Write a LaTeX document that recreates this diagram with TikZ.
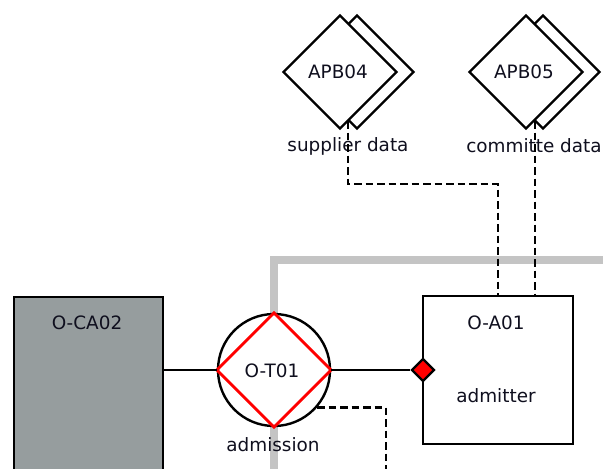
\documentclass[tikz,border=0pt]{standalone}
\usepackage{fontspec}
\setmainfont{DejaVu Sans}
\usetikzlibrary{shapes.geometric,calc}
\definecolor{laneGray}{RGB}{196,196,196}
\definecolor{roleFill}{RGB}{150,157,158}
\definecolor{txt}{RGB}{15,15,30}
\tikzset{
  lbl/.style={font=\fontsize{18.4}{21}\selectfont, text=txt, inner sep=0pt},
  outline/.style={draw=black, line width=2.4pt},
  apbdia/.style={diamond, outline, fill=white, minimum width=114, minimum height=114, inner sep=0pt, aspect=1},
  solidlink/.style={draw=black, line width=2.4pt},
  dashlink/.style={draw=black, line width=2.4pt, dash pattern=on 7.5pt off 4pt},
}
\begin{document}
\begin{tikzpicture}[x=1pt, y=-1pt]
\useasboundingbox (0,0) rectangle (603,469);
\clip (0,0) rectangle (603,469);

% swimlane boundary
\draw[laneGray, line width=8pt] (274,480) |- (615,260);

% organisation unit on the left
\node[outline, fill=roleFill, minimum width=149, minimum height=190, anchor=north west, inner sep=0pt] (ca02) at (13,296) {};
\node[lbl] (ca02t) at (87,323) {O-CA02};

% admitter role box
\node[outline, fill=white, minimum width=150, minimum height=148, inner sep=0pt] (a01) at (498,370) {};
\node[lbl] (a01t) at (496,323) {O-A01};
\node[lbl] (a01d) at (496,396) {admitter};

% transaction node
\node[circle, outline, fill=white, minimum size=112, inner sep=0pt] (t01) at (274,370) {};
\draw[red, line width=2.8pt, line join=miter] (t01.north) -- (t01.east) -- (t01.south) -- (t01.west) -- cycle;
\node[lbl] (t01t) at (272,371) {O-T01};
\node[lbl] (t01d) at (273,445) {admission};

% port on the role box
\node[diamond, draw=black, line width=2.4pt, fill=red, minimum width=23, minimum height=23, inner sep=0pt, aspect=1] (port) at (423,370) {};

% stacked information banks
\node[apbdia] (apb04b) at (357,72) {};
\node[apbdia] (apb04) at (340,72) {};
\node[lbl] (apb04t) at (338,72) {APB04};
\node[lbl] (apb04d) at (348,146) {supplier data};
\coordinate (apb04s) at (348,121);

\node[apbdia] (apb05b) at (543,72) {};
\node[apbdia] (apb05) at (526,72) {};
\node[lbl] (apb05t) at (524,72) {APB05};
\node[lbl] (apb05d) at (534,146) {committe data};
\coordinate (apb05s) at (535,121);

% connectors
\draw[solidlink] (t01.west -| ca02.east) -- (t01.west);
\draw[solidlink] (t01.east) -- (port.west);
\coordinate (lowend) at (386,480);
\draw[dashlink] (t01.-41) -| (lowend);
\draw[dashlink] (apb04s) -- ++(0,63) -| (a01.north);
\draw[dashlink] (apb05s) -- (apb05s |- a01.north);
\end{tikzpicture}
\end{document}
